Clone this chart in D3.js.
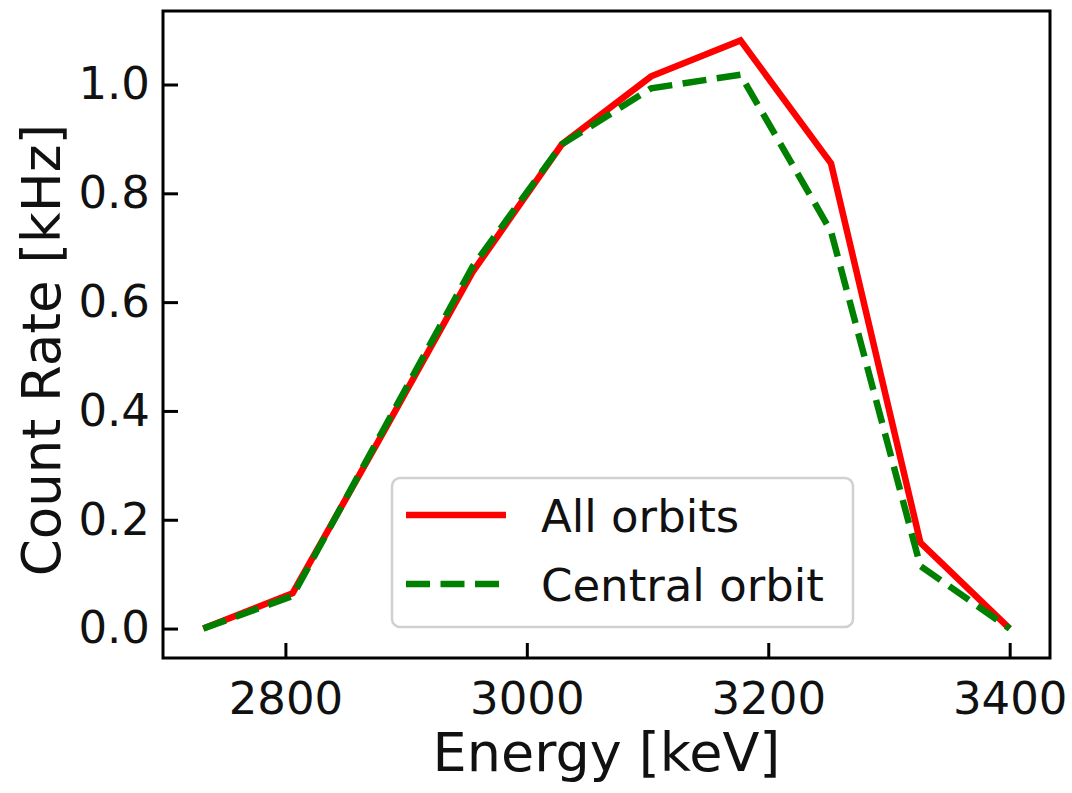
<!DOCTYPE html>
<html>
<head>
<meta charset="utf-8">
<script src="https://cdn.jsdelivr.net/npm/d3@7"></script>
<style>
  html, body { margin: 0; padding: 0; background: #fff; }
  svg { display: block; font-family: "DejaVu Sans", sans-serif; }
</style>
</head>
<body>
<svg id="chart" width="1072" height="793"></svg>
<script>
// Energy bins (keV)
const energies = [2732, 2806, 2881, 2955, 3029, 3103, 3177, 3252, 3326, 3400];
// Count rate (kHz) for all orbits
const allOrbits = [0.0, 0.065, 0.36, 0.655, 0.89, 1.015, 1.081, 0.855, 0.158, 0.0];
// Count rate (kHz) for the central orbit only
const centralOrbit = [0.0, 0.06, 0.365, 0.665, 0.89, 0.993, 1.018, 0.73, 0.115, 0.0];

const xTicks = [2800, 3000, 3200, 3400];
const yTicks = [0.0, 0.2, 0.4, 0.6, 0.8, 1.0];

const legendLabels = ["All orbits", "Central orbit"];
const seriesColors = ["#ff0000", "#008000"];

const svg = d3.select("#chart");
const margin = { left: 163, right: 1050, top: 11, bottom: 658 };

const x = d3.scaleLinear().domain([2698.6, 3433.4]).range([margin.left, margin.right]);
const y = d3.scaleLinear().domain([-0.0541, 1.1351]).range([margin.bottom, margin.top]);

const lineW = 6.5;

// Lines
const line = d3.line().x((d, i) => x(energies[i])).y(d => y(d));

const plot = svg.append("g");
plot.append("path")
  .datum(allOrbits)
  .attr("d", line)
  .attr("fill", "none")
  .attr("stroke", seriesColors[0])
  .attr("stroke-width", lineW)
  .attr("stroke-linejoin", "miter");

plot.append("path")
  .datum(centralOrbit)
  .attr("d", line)
  .attr("fill", "none")
  .attr("stroke", seriesColors[1])
  .attr("stroke-width", lineW)
  .attr("stroke-dasharray", "24,10.5");

// Axes (ticks pointing inward)
const tickFont = 45;
const xAxis = d3.axisBottom(x).tickValues(xTicks).tickFormat(d3.format("d"))
  .tickSizeInner(-15).tickSizeOuter(0).tickPadding(24);
const yAxis = d3.axisLeft(y).tickValues(yTicks).tickFormat(d3.format(".1f"))
  .tickSizeInner(-15).tickSizeOuter(0).tickPadding(13);

const gx = svg.append("g").attr("transform", `translate(0,${margin.bottom})`).call(xAxis);
const gy = svg.append("g").attr("transform", `translate(${margin.left},0)`).call(yAxis);

[gx, gy].forEach(g => {
  g.select(".domain").remove();
  g.selectAll(".tick line").attr("stroke", "#000").attr("stroke-width", 3);
  g.selectAll(".tick text")
    .attr("fill", "#111")
    .style("font-size", tickFont + "px")
    .style("font-family", "DejaVu Sans, sans-serif");
});
gx.selectAll(".tick text").attr("dy", "0.71em");

// Frame
svg.append("rect")
  .attr("x", margin.left)
  .attr("y", margin.top)
  .attr("width", margin.right - margin.left)
  .attr("height", margin.bottom - margin.top)
  .attr("fill", "none")
  .attr("stroke", "#000")
  .attr("stroke-width", 3);

// Axis labels
svg.append("text")
  .attr("x", (margin.left + margin.right) / 2)
  .attr("y", 771)
  .attr("text-anchor", "middle")
  .style("font-size", "54px")
  .attr("fill", "#111")
  .text("Energy [keV]");

svg.append("text")
  .attr("transform", `translate(60,350) rotate(-90)`)
  .attr("text-anchor", "middle")
  .style("font-size", "53px")
  .attr("fill", "#111")
  .text("Count Rate [kHz]");

// Legend
const legend = svg.append("g");
legend.append("rect")
  .attr("x", 392).attr("y", 478)
  .attr("width", 461).attr("height", 149)
  .attr("rx", 8).attr("ry", 8)
  .attr("fill", "rgba(255,255,255,0.8)")
  .attr("stroke", "#d0d0d0")
  .attr("stroke-width", 2.5);

const rowY = [515, 584];
legendLabels.forEach((lab, i) => {
  legend.append("line")
    .attr("x1", 406).attr("x2", 506)
    .attr("y1", rowY[i]).attr("y2", rowY[i])
    .attr("stroke", seriesColors[i])
    .attr("stroke-width", lineW)
    .attr("stroke-dasharray", i === 1 ? "24,10.5" : null);
  legend.append("text")
    .attr("x", 541)
    .attr("y", rowY[i] + 17)
    .style("font-size", "45px")
    .attr("fill", "#111")
    .text(lab);
});
</script>
</body>
</html>
